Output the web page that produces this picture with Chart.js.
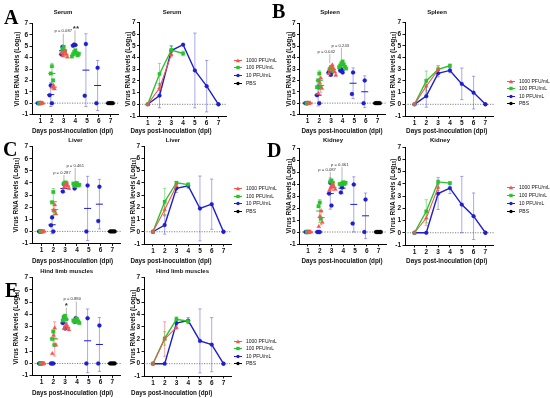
<!DOCTYPE html>
<html><head><meta charset="utf-8">
<script src="https://cdn.jsdelivr.net/npm/chart.js@4.4.1/dist/chart.umd.min.js"></script>
<style>
html,body{margin:0;padding:0;background:#fff;}
body{width:550px;height:398px;position:relative;overflow:hidden;font-family:"Liberation Sans",Arial,sans-serif;-webkit-font-smoothing:antialiased;}
canvas{position:absolute;}
.t{position:absolute;white-space:nowrap;font-weight:bold;color:#111;transform:translate(-50%,-50%);line-height:1;filter:grayscale(1);}
.yt{position:absolute;white-space:nowrap;font-weight:bold;color:#111;transform:translate(-50%,-50%) rotate(-90deg);line-height:1;filter:grayscale(1);}
.yt sub{font-size:70%;vertical-align:-1px;line-height:0;}
.letter{position:absolute;font-family:"Liberation Serif","Times New Roman",serif;font-weight:bold;font-size:20px;line-height:20px;color:#000;filter:grayscale(1);}
.leg{position:absolute;font-size:5px;line-height:5px;color:#111;white-space:nowrap;display:flex;align-items:center;}
.leg span{filter:grayscale(1);}
.leg svg{margin-right:4px;}
</style></head><body>
<script>
// ---------------- DATA ----------------
const dayLabels = [1, 2, 3, 4, 5, 6, 7];
const yTickValues = [-1, 0, 1, 2, 3, 4, 5, 6, 7];
const groupNames = ['1000 PFU/mL', '100 PFU/mL', '10 PFU/mL', 'PBS'];
const tissueNames = ['Serum', 'Spleen', 'Liver', 'Kidney', 'Hind limb muscles'];
const xAxisTitle = 'Days post-inoculation (dpi)';

// PBS (same in every tissue)
const pbsMean = [null, null, null, null, null, null, 0];
const pbsSd   = [null, null, null, null, null, null, 0];
const pbsPts  = [[], [], [], [], [], [], [0, 0, 0, 0, 0]];

// Serum
const serumMean1000 = [0, 1.4, 4.25, null, null, null, null];
const serumSd1000   = [0, 0.2, 0.2, null, null, null, null];
const serumMean100  = [0, 2.6, 4.65, 4.35, null, null, null];
const serumSd100    = [0, 0.9, 0.35, 0.2, null, null, null];
const serumMean10   = [0, 0.75, 4.6, 5.1, 2.9, 1.55, 0];
const serumSd10     = [0, 1.05, 0.4, 0.05, 3.2, 2.2, 0];
const serumPts1000  = [[0, 0, 0], [1.55, 1.4, 1.25], [4.6, 4.45, 4.3, 4.15, 4.05, 4.4], [], [], [], []];
const serumPts100   = [[0, 0, 0], [3.25, 2.6, 2.0], [4.95, 4.75, 4.6], [4.65, 4.5, 4.4, 4.3, 4.2, 4.1, 4.35], [], [], []];
const serumPts10    = [[0, 0, 0], [1.55, 0.7, 0], [4.95, 4.3], [5.15, 5.05, 5.1], [5.2, 0.65], [3.1, 0], []];

// Spleen
const spleenMean1000 = [0, 1.55, 2.95, null, null, null, null];
const spleenSd1000   = [0, 0.6, 0.35, null, null, null, null];
const spleenMean100  = [0, 2.0, 3.0, 3.3, null, null, null];
const spleenSd100    = [0, 0.85, 0.3, 0.15, null, null, null];
const spleenMean10   = [0, 0.7, 2.65, 2.9, 1.75, 1.0, 0];
const spleenSd10     = [0, 0.95, 0.3, 0.2, 1.35, 1.4, 0];
const spleenPts1000  = [[0, 0, 0], [2.2, 1.8, 1.3, 0.85], [3.35, 3.2, 3.05, 2.9, 2.75, 2.6, 2.45], [], [], [], []];
const spleenPts100   = [[0, 0, 0], [2.6, 2.0, 1.45, 1.4], [3.15, 3.0, 2.85], [3.65, 3.5, 3.4, 3.3, 3.2, 3.15, 3.05], [], [], []];
const spleenPts10    = [[0, 0, 0], [1.4, 0.7, 0], [2.85, 2.7, 2.5], [2.95, 2.85, 2.7], [2.7, 0.8], [2.0, 0], []];

// Liver
const liverMean1000 = [0, 1.8, 3.75, null, null, null, null];
const liverSd1000   = [0, 0.4, 0.2, null, null, null, null];
const liverMean100  = [0, 2.45, 4.0, 3.85, null, null, null];
const liverSd100    = [0, 1.1, 0.1, 0.15, null, null, null];
const liverMean10   = [0, 0.55, 3.55, 3.75, 1.9, 2.25, 0];
const liverSd10     = [0, 0.75, 0.35, 0.2, 2.65, 2.05, 0];
const liverPts1000  = [[0, 0, 0], [2.2, 1.75, 1.45], [3.95, 3.85, 3.75, 3.65, 3.55], [], [], [], []];
const liverPts100   = [[0, 0, 0], [3.25, 2.4, 1.7], [4.05, 3.95, 4.0], [4.0, 3.9, 3.8, 3.75, 3.85, 3.95], [], [], []];
const liverPts10    = [[0, 0, 0], [1.15, 0.5, 0], [3.9, 3.3], [3.95, 3.55], [3.8, 0], [3.7, 0.85], []];

// Kidney
const kidneyMean1000 = [0, 1.2, 3.7, null, null, null, null];
const kidneySd1000   = [0, 0.6, 0.25, null, null, null, null];
const kidneyMean100  = [0, 1.75, 4.15, 4.05, null, null, null];
const kidneySd100    = [0, 0.95, 0.15, 0.12, null, null, null];
const kidneyMean10   = [0, 0, 3.2, 3.65, 2.3, 1.35, 0];
const kidneySd10     = [0, 0, 1.3, 0.45, 2.3, 1.9, 0];
const kidneyPts1000  = [[0, 0, 0], [1.75, 1.3, 0.8, 0.45], [3.95, 3.85, 3.75, 3.65, 3.55, 3.45], [], [], [], []];
const kidneyPts100   = [[0, 0, 0], [2.45, 2.15, 1.1], [4.3, 4.2, 4.1], [4.15, 4.05, 4.0, 3.95, 4.1, 4.0], [], [], []];
const kidneyPts10    = [[0, 0, 0], [0, 0, 0], [4.1, 3.2, 2.2], [3.7, 3.3], [3.95, 0.7], [2.7, 0], []];

// Hind limb muscles
const muscleMean1000 = [0, 2.0, 2.95, null, null, null, null];
const muscleSd1000   = [0, 1.4, 0.15, null, null, null, null];
const muscleMean100  = [0, 2.05, 3.6, 3.45, null, null, null];
const muscleSd100    = [0, 0.55, 0.2, 0.15, null, null, null];
const muscleMean10   = [0, 0, 3.3, 3.5, 1.85, 1.55, 0];
const muscleSd10     = [0, 0, 0.45, 0.25, 2.6, 2.2, 0];
const musclePts1000  = [[0, 0, 0], [2.9, 2.3, 1.5, 0.8], [3.15, 3.05, 2.95, 2.85, 2.75], [], [], [], []];
const musclePts100   = [[0, 0, 0], [2.6, 2.0, 1.5], [3.9, 3.8, 3.6, 3.5], [3.65, 3.55, 3.45, 3.4, 3.3, 3.5], [], [], []];
const musclePts10    = [[0, 0, 0], [0, 0, 0], [3.8, 3.3, 2.85], [3.7, 3.4], [3.7, 0], [3.1, 0], []];

// statistical annotations (label, day position, text level, connector from/to)
const serumNotes  = [{label: 'p = 0.087', x: 2.97, y: 6.35, lx: 2.97, y1: 6.1, y2: 5.1},
                     {label: '**', x: 4.05, y: 6.65, lx: 3.97, y1: 6.4, y2: 5.3, big: true}];
const spleenNotes = [{label: 'p = 0.042', x: 2.6, y: 4.5, lx: 2.9, y1: 4.3, y2: 3.5},
                     {label: 'p = 0.243', x: 3.8, y: 5.05, lx: 3.9, y1: 4.85, y2: 3.75}];
const liverNotes  = [{label: 'p = 0.287', x: 2.73, y: 4.85, lx: 2.9, y1: 4.65, y2: 4.15},
                     {label: 'p = 0.461', x: 3.85, y: 5.45, lx: 3.85, y1: 5.25, y2: 4.15}];
const kidneyNotes = [{label: 'p = 0.087', x: 2.63, y: 5.2, lx: 2.9, y1: 5.0, y2: 4.45},
                     {label: 'p = 0.461', x: 3.7, y: 5.6, lx: 3.9, y1: 5.4, y2: 4.3}];
const muscleNotes = [{label: 'p = 0.880', x: 3.6, y: 5.25, lx: 3.95, y1: 5.05, y2: 3.8},
                     {label: '*', x: 3.1, y: 4.8, lx: 3.1, y1: 4.55, y2: 4.0, big: true}];

// ---------------- STYLE / LAYOUT ----------------
Chart.defaults.font.family = '"Liberation Sans", Arial, sans-serif';
const COL  = ['#f2564f', '#2bc32b', '#1e1ecf', '#000000'];
const BAR  = ['rgba(240,80,76,0.55)', 'rgba(43,195,43,0.55)', 'rgba(30,30,207,0.42)', 'rgba(0,0,0,0.8)'];
const SHAPE = ['triangle', 'rect', 'circle', 'circle'];
const RAD = [2.4, 2.5, 2.0, 1.9];
const GOFF = [0.12, 0.0, -0.1, 0.0];

const tissues = [
  {name: tissueNames[0], mean: [serumMean1000, serumMean100, serumMean10, pbsMean], sd: [serumSd1000, serumSd100, serumSd10, pbsSd], pts: [serumPts1000, serumPts100, serumPts10, pbsPts], notes: serumNotes},
  {name: tissueNames[1], mean: [spleenMean1000, spleenMean100, spleenMean10, pbsMean], sd: [spleenSd1000, spleenSd100, spleenSd10, pbsSd], pts: [spleenPts1000, spleenPts100, spleenPts10, pbsPts], notes: spleenNotes},
  {name: tissueNames[2], mean: [liverMean1000, liverMean100, liverMean10, pbsMean], sd: [liverSd1000, liverSd100, liverSd10, pbsSd], pts: [liverPts1000, liverPts100, liverPts10, pbsPts], notes: liverNotes},
  {name: tissueNames[3], mean: [kidneyMean1000, kidneyMean100, kidneyMean10, pbsMean], sd: [kidneySd1000, kidneySd100, kidneySd10, pbsSd], pts: [kidneyPts1000, kidneyPts100, kidneyPts10, pbsPts], notes: kidneyNotes},
  {name: tissueNames[4], mean: [muscleMean1000, muscleMean100, muscleMean10, pbsMean], sd: [muscleSd1000, muscleSd100, muscleSd10, pbsSd], pts: [musclePts1000, musclePts100, musclePts10, pbsPts], notes: muscleNotes}
];

const layout = [
  {letter: 'A', lx: 4, ly: 6.5,
   sc: {left: 32, top: 23.5, w: 87.6, h: 91, xmin: 0.3, xmax: 7.7},
   ln: {left: 139.5, top: 22.5, w: 87.6, h: 93.5, xmin: 0.3, xmax: 7.7},
   title: [63, 172, 12], xt: [72.5, 171, 131], yt: [16.5, 127.5], leg: [234, 60, 7.8]},
  {letter: 'B', lx: 272, ly: 1,
   sc: {left: 299.5, top: 23.5, w: 87, h: 91, xmin: 0.3, xmax: 7.7},
   ln: {left: 405, top: 22.5, w: 89.4, h: 93.5, xmin: 0.2, xmax: 7.7},
   title: [330, 437, 12], xt: [342, 446.7, 131], yt: [288.5, 393], leg: [507, 81, 7.6]},
  {letter: 'C', lx: 3, ly: 138.5,
   sc: {left: 32, top: 146.7, w: 89.6, h: 96.8, xmin: 0.2, xmax: 7.7},
   ln: {left: 144, top: 146, w: 88.3, h: 98, xmin: 0.24, xmax: 7.7},
   title: [75.5, 173, 139.5], xt: [72.5, 171, 261], yt: [15.5, 133], leg: [234, 188.3, 7.8]},
  {letter: 'D', lx: 267, ly: 139.5,
   sc: {left: 299.5, top: 148, w: 87.8, h: 96, xmin: 0.28, xmax: 7.7},
   ln: {left: 405, top: 147, w: 89.4, h: 98, xmin: 0.2, xmax: 7.7},
   title: [333, 440, 140], xt: [342, 446.7, 261], yt: [288.5, 392.5], leg: [507, 187.7, 8]},
  {letter: 'E', lx: 5, ly: 279.5,
   sc: {left: 32, top: 277.7, w: 89.6, h: 98, xmin: 0.2, xmax: 7.7},
   ln: {left: 144, top: 277.5, w: 88.3, h: 98.5, xmin: 0.24, xmax: 7.7},
   title: [66.7, 182.5, 271], xt: [72.5, 171.7, 393], yt: [15.5, 133], leg: [234, 341, 7.6]}
];

const PADL = 22, PADT = 7, PADR = 3, PADB = 12;

function addDiv(cls, html, x, y, size) {
  const d = document.createElement('div');
  d.className = cls; d.innerHTML = html;
  d.style.left = x + 'px'; d.style.top = y + 'px';
  if (size) d.style.fontSize = size + 'px';
  document.body.appendChild(d);
  return d;
}

function makeCanvas(g) {
  const cl = Math.floor(g.left - PADL), ct = Math.floor(g.top - PADT);
  const padL = g.left - cl, padT = g.top - ct;
  const cw = Math.ceil(padL + g.w + PADR), ch = Math.ceil(padT + g.h + PADB);
  const c = document.createElement('canvas');
  c.width = cw; c.height = ch;
  c.style.left = cl + 'px'; c.style.top = ct + 'px';
  c.style.width = cw + 'px'; c.style.height = ch + 'px';
  document.body.appendChild(c);
  return {c, padL, padT, padR: cw - padL - g.w, padB: ch - padT - g.h};
}

function axisOpts(g, geo) {
  const grid = {display: true, drawOnChartArea: false, drawTicks: true, tickLength: 2.5, color: '#000', lineWidth: 0.9};
  const border = {display: true, color: '#000', width: 1};
  const tfont = {size: 6.5, weight: 'bold'};
  return {
    x: {type: 'linear', min: g.xmin, max: g.xmax, grid, border,
        afterBuildTicks: s => { s.ticks = dayLabels.map(v => ({value: v})); },
        afterFit: s => { s.height = geo.padB; },
        ticks: {font: tfont, color: '#111', padding: 0.5, maxRotation: 0, autoSkip: false}},
    y: {type: 'linear', min: -1, max: 7, grid, border,
        afterBuildTicks: s => { s.ticks = yTickValues.map(v => ({value: v})); },
        afterFit: s => { s.width = geo.padL; },
        ticks: {font: tfont, color: '#111', padding: 1.5, autoSkip: false}}
  };
}

function jitter(i) {
  if (i === 0) return 0;
  const k = Math.ceil(i / 2);
  return (i % 2 ? -1 : 1) * k * 0.1;
}

const barsPlugin = {
  id: 'bars',
  beforeDatasetsDraw(chart) {
    const o = chart.config.options.plugins.bars;
    const {ctx, chartArea, scales: {x, y}} = chart;
    ctx.save();
    const y0 = y.getPixelForValue(0);
    ctx.strokeStyle = '#666'; ctx.lineWidth = 0.8; ctx.setLineDash([1.2, 1.3]);
    ctx.beginPath(); ctx.moveTo(chartArea.left, y0); ctx.lineTo(chartArea.right, y0); ctx.stroke();
    ctx.setLineDash([]);
    const t = o.tissue;
    for (let g = 0; g < 4; g++) {
      const off = o.scatter ? GOFF[g] : 0;
      for (let d = 0; d < dayLabels.length; d++) {
        const m = t.mean[g][d], s = t.sd[g][d];
        if (m === null || m === undefined) continue;
        const day = dayLabels[d] + off;
        const cx = x.getPixelForValue(day);
        if (s > 0) {
          const yt = y.getPixelForValue(m + s), yb = y.getPixelForValue(m - s);
          const cap = x.getPixelForValue(day + 0.14) - cx;
          ctx.strokeStyle = BAR[g]; ctx.lineWidth = 0.9;
          ctx.beginPath();
          ctx.moveTo(cx, yt); ctx.lineTo(cx, yb);
          ctx.moveTo(cx - cap, yt); ctx.lineTo(cx + cap, yt);
          ctx.moveTo(cx - cap, yb); ctx.lineTo(cx + cap, yb);
          ctx.stroke();
        }
        if (o.scatter) {
          const hw = x.getPixelForValue(day + 0.3) - cx;
          const ym = y.getPixelForValue(m);
          ctx.strokeStyle = COL[g]; ctx.lineWidth = 1;
          ctx.beginPath(); ctx.moveTo(cx - hw, ym); ctx.lineTo(cx + hw, ym); ctx.stroke();
        }
      }
    }
    ctx.restore();
  },
  afterDatasetsDraw(chart) {
    const o = chart.config.options.plugins.bars;
    if (!o.scatter) return;
    const {ctx, scales: {x, y}} = chart;
    ctx.save();
    ctx.textAlign = 'center'; ctx.textBaseline = 'middle';
    for (const n of o.tissue.notes) {
      ctx.strokeStyle = '#888'; ctx.lineWidth = 0.6;
      const lx = x.getPixelForValue(n.lx);
      ctx.beginPath(); ctx.moveTo(lx, y.getPixelForValue(n.y1)); ctx.lineTo(lx, y.getPixelForValue(n.y2)); ctx.stroke();
      ctx.fillStyle = '#333';
      ctx.font = n.big ? 'bold 8px "Liberation Sans"' : '4.2px "Liberation Sans"';
      ctx.fillText(n.label, x.getPixelForValue(n.x), y.getPixelForValue(n.y) + (n.big ? 1.5 : 0));
    }
    ctx.restore();
  }
};

function scatterChart(t, g) {
  const geo = makeCanvas(g);
  const datasets = [0, 1, 2, 3].map(gi => {
    const data = [];
    t.pts[gi].forEach((vals, d) => vals.forEach((v, i) => data.push({x: dayLabels[d] + GOFF[gi] + jitter(i), y: v})));
    return {label: groupNames[gi], data, pointStyle: SHAPE[gi], pointRadius: RAD[gi],
            backgroundColor: COL[gi], borderColor: COL[gi], borderWidth: 0.3};
  });
  new Chart(geo.c, {
    type: 'scatter', data: {datasets},
    options: {responsive: false, animation: false, events: [],
      layout: {padding: {left: 0, top: geo.padT, right: geo.padR, bottom: 0}},
      scales: axisOpts(g, geo),
      plugins: {legend: {display: false}, tooltip: {enabled: false}, bars: {tissue: t, scatter: true}}},
    plugins: [barsPlugin]
  });
}

function lineChart(t, g) {
  const geo = makeCanvas(g);
  const datasets = [0, 1, 2, 3].map(gi => {
    const data = [];
    t.mean[gi].forEach((m, d) => { if (m !== null) data.push({x: dayLabels[d], y: m}); });
    return {label: groupNames[gi], data, pointStyle: SHAPE[gi], pointRadius: RAD[gi] * 0.95,
            backgroundColor: COL[gi], borderColor: COL[gi], borderWidth: gi === 0 ? 1.1 : 1.4,
            pointBorderWidth: 0.3, tension: 0, fill: false};
  });
  new Chart(geo.c, {
    type: 'line', data: {datasets},
    options: {responsive: false, animation: false, events: [],
      layout: {padding: {left: 0, top: geo.padT, right: geo.padR, bottom: 0}},
      scales: axisOpts(g, geo),
      plugins: {legend: {display: false}, tooltip: {enabled: false}, bars: {tissue: t, scatter: false}}},
    plugins: [barsPlugin]
  });
}

function markerSvg(gi) {
  const c = COL[gi];
  let m;
  if (SHAPE[gi] === 'triangle') m = `<polygon points="4,0.6 6.2,4.2 1.8,4.2" fill="${c}"/>`;
  else if (SHAPE[gi] === 'rect') m = `<rect x="2.3" y="0.8" width="3.4" height="3.4" fill="${c}"/>`;
  else m = `<circle cx="4" cy="2.5" r="1.7" fill="${c}"/>`;
  return `<svg width="8" height="5" viewBox="0 0 8 5"><line x1="0" y1="2.5" x2="8" y2="2.5" stroke="${c}" stroke-width="1"/>${m}</svg>`;
}

layout.forEach((L, i) => {
  const t = tissues[i];
  addDiv('letter', L.letter, L.lx, L.ly);
  addDiv('t', t.name, L.title[0], L.title[2], 6);
  addDiv('t', t.name, L.title[1], L.title[2], 6);
  addDiv('t', xAxisTitle, L.xt[0], L.xt[2], 6.3);
  addDiv('t', xAxisTitle, L.xt[1], L.xt[2], 6.3);
  const ySc = L.sc.top + L.sc.h / 2, yLn = L.ln.top + L.ln.h / 2;
  addDiv('yt', 'Virus RNA levels (Log<sub>10</sub>)', L.yt[0], ySc, 6.5);
  addDiv('yt', 'Virus RNA levels (Log<sub>10</sub>)', L.yt[1], yLn, 6.5);
  scatterChart(t, L.sc);
  lineChart(t, L.ln);
  groupNames.forEach((nm, gi) => {
    addDiv('leg', markerSvg(gi) + '<span>' + nm + '</span>', L.leg[0], L.leg[1] + gi * L.leg[2] - 2.5);
  });
});
</script>
</body></html>
